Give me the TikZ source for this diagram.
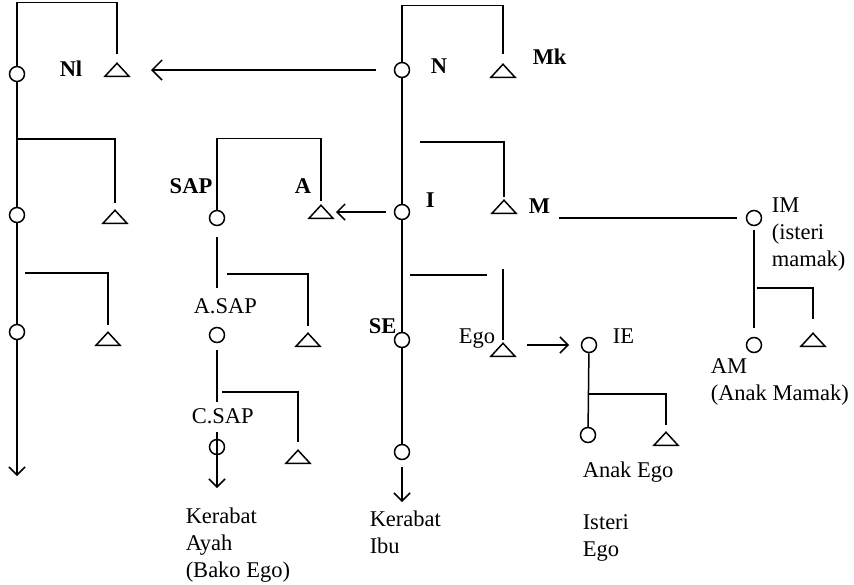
\documentclass[tikz,border=0pt]{standalone}
\usepackage{fontspec}
\setmainfont{Liberation Serif}
\usetikzlibrary{shapes.geometric,arrows.meta,calc}

\begin{document}
\begin{tikzpicture}[x=1pt,y=-1pt,line width=1.5pt,
  >={Straight Barb[length=8pt,width=16pt]},
  fem/.style={circle,draw,minimum size=15pt,inner sep=0pt},
  mal/.style={isosceles triangle,isosceles triangle stretches,shape border rotate=90,
    draw,minimum width=24pt,minimum height=13pt,inner sep=0pt},
  lbl/.style={inner sep=0pt,anchor=base west,font=\fontsize{22.5}{27}\selectfont},
  blbl/.style={lbl,font=\fontsize{22.5}{27}\selectfont\bfseries},
  txt/.style={inner sep=0pt,anchor=north west,align=left,font=\fontsize{22.5}{27}\selectfont}]
  \useasboundingbox (0,0) rectangle (854,584);

  \node[fem] (lf1) at (17,74) {};
  \node[mal] (lm1) at (117,71) {};
  \node[fem] (lf2) at (17,215) {};
  \node[mal] (lm2) at (115,218) {};
  \node[fem] (lf3) at (17,332) {};
  \node[mal] (lm3) at (108,340) {};
  \coordinate (lend) at (17,476);
  \coordinate (lj2) at (17,139);
  \coordinate (lj3) at (25,273);
  \node[blbl] (nll) at (59,76) {Nl};

  \node[fem] (nf) at (402,70) {};
  \node[mal] (nm) at (503,72) {};
  \node[fem] (if) at (402,212) {};
  \node[mal] (mm) at (504,208) {};
  \node[fem] (sef) at (402,340) {};
  \node[mal] (egom) at (503,351) {};
  \node[fem] (sef2) at (402,452) {};
  \coordinate (seend) at (402,502);
  \coordinate (mj) at (420,142);
  \node[blbl] (nl) at (430,73) {N};
  \node[blbl] (mkl) at (532,64) {Mk};
  \node[blbl] (il) at (425,207) {I};
  \node[blbl] (ml) at (528,213) {M};
  \node[blbl] (sel) at (368,333) {SE};
  \node[lbl] (egol) at (458,343) {Ego};
  \node[txt] (kil) at (369,510) {Kerabat\\Ibu};

  \node[fem] (sapf) at (217,218) {};
  \node[mal] (am) at (321,213) {};
  \node[fem] (asf) at (217,335) {};
  \node[mal] (asm) at (308,341) {};
  \node[fem] (csf) at (217,447) {};
  \node[mal] (csm) at (298,458) {};
  \coordinate (csend) at (217,488);
  \coordinate (sj2) at (227,274);
  \coordinate (sj3) at (222,392);
  \node[blbl,anchor=base east] (sapl) at (213,193) {SAP};
  \node[blbl] (al) at (294,193) {A};
  \node[lbl] (asl) at (193,313) {A.SAP};
  \node[lbl] (csl) at (191,423) {C.SAP};
  \node[txt] (kal) at (185,507) {Kerabat\\Ayah\\(Bako Ego)};

  \node[fem] (ief) at (589,345) {};
  \node[fem] (aef) at (588,435) {};
  \node[mal] (aem) at (666,440) {};
  \coordinate (ej) at (588,394);
  \node[lbl] (iel) at (612,343) {IE};
  \node[lbl] (ael) at (582,477) {Anak Ego};
  \node[txt] (isl) at (582,514) {Isteri\\Ego};

  \node[fem] (imf) at (754,218) {};
  \node[fem] (amf) at (754,345) {};
  \node[mal] (amm) at (813,341) {};
  \coordinate (imj) at (757,288);
  \node[txt] (iml) at (771,197) {IM\\(isteri\\mamak)};
  \node[txt] (aml) at (710,358) {AM\\(Anak Mamak)};

  \draw (lf1.north) |- ([yshift=59pt]lm1.north) -- ([yshift=7pt]lm1.north);
  \draw (lf1) -- (lf2);
  \draw (lj2) -| ([yshift=5pt]lm2.north);
  \draw (lf2) -- (lf3);
  \draw (lj3) -| ([yshift=5pt]lm3.north);
  \draw[->] (lf3) -- (lend);
  \draw[-{Straight Barb[length=10pt,width=20pt]},shorten <=26pt,shorten >=34pt]
    (nf.center) -- (lm1.center |- nf.center);

  \draw (nf.north) |- ([yshift=57pt]nm.north) -- ([yshift=8pt]nm.north);
  \draw (nf) -- (if);
  \draw (mj) -| ([yshift=1pt]mm.north);
  \draw[->,shorten <=16pt,shorten >=15pt] (if.center) -- (am.center |- if.center);
  \draw (if) -- (sef);
  \draw (410,275) -- (487,275);
  \draw ([yshift=72pt]egom.north) -- ([yshift=1pt]egom.north);
  \draw[->,shorten <=24pt,shorten >=20pt] (egom.center |- ief.center) -- (ief.center);
  \draw (sef) -- (sef2);
  \draw[->] ([yshift=-7pt]sef2.south) -- (seend);
  \draw[shorten <=55pt,shorten >=17pt] (mm.center |- imf.center) -- (imf.center);

  \draw (sapf.north) |- ([yshift=65pt]am.north) -- ([yshift=2pt]am.north);
  \draw ([yshift=-11pt]sapf.south) -- ++(0,51);
  \draw (sj2) -| ([yshift=5pt]asm.north);
  \draw ([yshift=-7pt]asf.south) -- ++(0,52);
  \draw (sj3) -| ([yshift=6pt]csm.north);
  \draw[->] ([yshift=7pt]csf.north) -- (csend);

  \draw (ief) -- (aef);
  \draw (ej) -| ([yshift=5pt]aem.north);
  \draw[shorten <=4pt,shorten >=9pt] (imf) -- (amf);
  \draw (imj) -| ([yshift=12pt]amm.north);
\end{tikzpicture}
\end{document}
